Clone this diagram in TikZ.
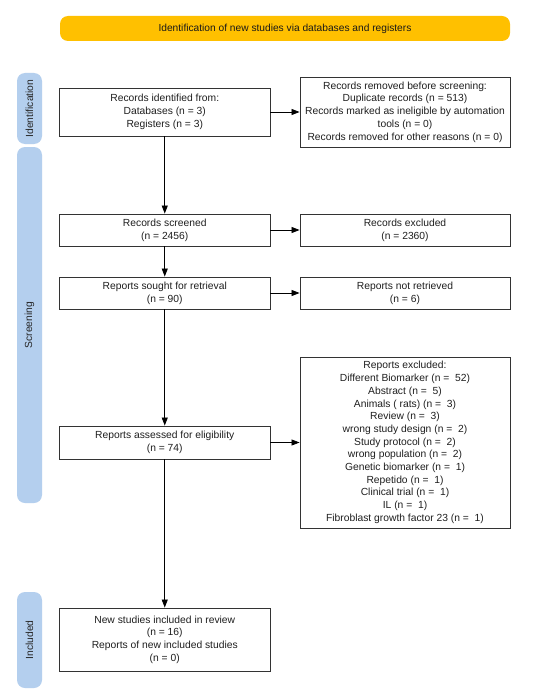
\documentclass[tikz,border=0pt]{standalone}
\usepackage{fontspec}
\setmainfont{Liberation Sans}
\usetikzlibrary{arrows.meta}
\definecolor{banner}{HTML}{FFC000}
\definecolor{sidebl}{HTML}{B4CFEE}
\definecolor{boxline}{HTML}{333333}
\tikzset{
  box/.style={draw=boxline, line width=0.9pt, fill=white, align=center, inner sep=1pt,
    font=\fontsize{10.3}{12.7}\selectfont, text=black!88},
  sidebar/.style={fill=sidebl, rounded corners=8pt, inner sep=0pt},
  sidelabel/.style={rotate=90, font=\fontsize{10.3}{12.7}\selectfont, text=black!85, inner sep=0pt},
  arr/.style={-{Triangle[length=8pt,width=6pt]}, line width=0.8pt, black},
}
\begin{document}
\begin{tikzpicture}[x=1pt,y=-1pt]
\useasboundingbox (0,0) rectangle (550,698);
\fill[white] (0,0) rectangle (550,698);
% banner
\node[fill=banner, rounded corners=8pt, minimum width=450pt, minimum height=25pt, inner sep=0pt,
  font=\fontsize{10.2}{12}\selectfont, text=black!90] (ban) at (285,28.5)
  {Identification of new studies via databases and registers};
% side bars
\node[sidebar, minimum width=25pt, minimum height=71pt] (idbar) at (29.5,108.5) {};
\node[sidelabel] (idlab) at (idbar.center) {Identification};
\node[sidebar, minimum width=25pt, minimum height=356pt] (scbar) at (29.5,325) {};
\node[sidelabel] (sclab) at (scbar.center) {Screening};
\node[sidebar, minimum width=25pt, minimum height=96pt] (inbar) at (29.5,640) {};
\node[sidelabel] (inlab) at (inbar.center) {Included};
% left column
\node[box, minimum width=210.5pt, minimum height=48pt] (ident) at (164.75,112)
  {Records identified from:\\Databases (n = 3)\\Registers (n = 3)};
\node[box, minimum width=210.5pt, minimum height=32pt] (screen) at (164.75,230)
  {Records screened\\(n = 2456)};
\node[box, minimum width=210.5pt, minimum height=32pt] (sought) at (164.75,293)
  {Reports sought for retrieval\\(n = 90)};
\node[box, minimum width=210.5pt, minimum height=33pt] (assess) at (164.75,442.5)
  {Reports assessed for eligibility\\(n = 74)};
\node[box, minimum width=210.5pt, minimum height=63pt] (incl) at (164.75,639.5)
  {New studies included in review\\(n = 16)\\Reports of new included studies\\(n = 0)};
% right column
\node[box, minimum width=210pt, minimum height=70pt] (removed) at (405,112)
  {Records removed before screening:\\Duplicate records (n = 513)\\Records marked as ineligible by automation\\tools (n = 0)\\Records removed for other reasons (n = 0)};
\node[box, minimum width=210pt, minimum height=32pt] (rexcl) at (405,230)
  {Records excluded\\(n = 2360)};
\node[box, minimum width=210pt, minimum height=32pt] (notret) at (405,293)
  {Reports not retrieved\\(n = 6)};
\node[box, minimum width=210pt, minimum height=171pt] (repexcl) at (405,442.5)
  {Reports excluded:\\Different Biomarker (n =\ \ 52)\\Abstract (n =\ \ 5)\\Animals ( rats) (n =\ \ 3)\\Review (n =\ \ 3)\\wrong study design (n =\ \ 2)\\Study protocol (n =\ \ 2)\\wrong population (n =\ \ 2)\\Genetic biomarker (n =\ \ 1)\\Repetido (n =\ \ 1)\\Clinical trial (n =\ \ 1)\\IL (n =\ \ 1)\\Fibroblast growth factor 23 (n =\ \ 1)};
% arrows
\draw[arr] (ident) -- (screen);
\draw[arr] (screen) -- (sought);
\draw[arr] (sought) -- (assess);
\draw[arr] (assess) -- (incl);
\draw[arr] (ident) -- (removed);
\draw[arr] (screen) -- (rexcl);
\draw[arr] (sought) -- (notret);
\draw[arr] (assess) -- (repexcl);
\end{tikzpicture}
\end{document}
